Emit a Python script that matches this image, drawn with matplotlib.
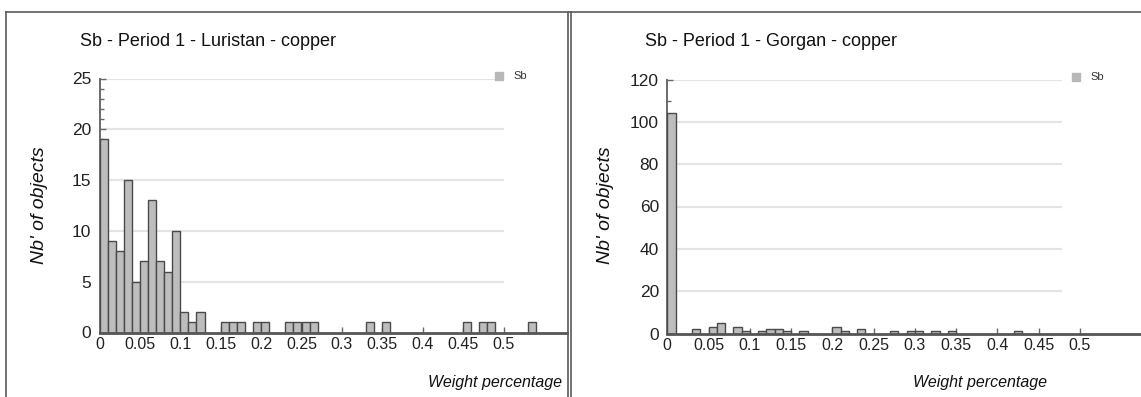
import matplotlib
matplotlib.use("Agg")
import matplotlib.pyplot as plt
from matplotlib.lines import Line2D
from matplotlib.ticker import MultipleLocator, FuncFormatter

plt.rcParams['font.family'] = ['Liberation Sans', 'DejaVu Sans']

# histogram bins (left edge, width 0.01) and counts
luristan_bins = [0.00, 0.01, 0.02, 0.03, 0.04, 0.05, 0.06, 0.07, 0.08, 0.09,
                 0.10, 0.11, 0.12, 0.15, 0.16, 0.17, 0.19, 0.20, 0.23, 0.24,
                 0.25, 0.26, 0.33, 0.35, 0.45, 0.47, 0.48, 0.53]
luristan_counts = [19, 9, 8, 15, 5, 7, 13, 7, 6, 10,
                   2, 1, 2, 1, 1, 1, 1, 1, 1, 1,
                   1, 1, 1, 1, 1, 1, 1, 1]

gorgan_bins = [0.00, 0.03, 0.05, 0.06, 0.08, 0.09, 0.11, 0.12, 0.13, 0.14,
               0.16, 0.20, 0.21, 0.23, 0.27, 0.29, 0.30, 0.32, 0.34, 0.42]
gorgan_counts = [104, 2, 3, 5, 3, 1, 1, 2, 2, 1,
                 1, 3, 1, 2, 1, 1, 1, 1, 1, 1]

x_ticks = [0, 0.05, 0.1, 0.15, 0.2, 0.25, 0.3, 0.35, 0.4, 0.45, 0.5]

W, H = 1141, 397
fig = plt.figure(figsize=(W / 100, H / 100), dpi=100)


def px(x, y):
    return x / W, 1 - y / H


def draw_panel(rect, bins, counts, xmax, ymax, major, minor, grid_end,
               title, title_xy, ylabel_xy, xlabel_xy, legend_xy):
    ax = fig.add_axes(rect)
    ax.bar(bins, counts, width=0.01, align='edge', color='#bdbdbd',
           edgecolor='#4a4a4a', linewidth=1.0, zorder=3)
    ax.set_xlim(0, xmax)
    ax.set_ylim(0, ymax)
    ax.hlines(range(major, ymax + 1, major), 0, grid_end, color='#e4e4e4',
              linewidth=1.6, zorder=1)
    for s in ('top', 'right'):
        ax.spines[s].set_visible(False)
    ax.spines['left'].set_color('#6a6a6a')
    ax.spines['left'].set_linewidth(1.4)
    ax.spines['bottom'].set_color('#555555')
    ax.spines['bottom'].set_linewidth(2.0)
    ax.spines['bottom'].set_zorder(4)

    ax.set_xticks(x_ticks)
    ax.xaxis.set_major_formatter(FuncFormatter(lambda v, p: '%g' % round(v, 2)))
    ax.yaxis.set_major_locator(MultipleLocator(major))
    ax.yaxis.set_minor_locator(MultipleLocator(minor))
    ax.tick_params(axis='both', which='major', direction='in', length=4,
                   width=1, color='#666666', labelcolor='#222222')
    ax.tick_params(axis='x', labelsize=11.5, pad=3)
    ax.tick_params(axis='y', labelsize=12.5, pad=6)
    ax.tick_params(axis='y', which='minor', direction='in', length=3,
                   width=1, color='#666666')

    fig.text(*px(*title_xy), title, fontsize=13, color='#111111',
             ha='left', va='center')
    fig.text(*px(*ylabel_xy), "Nb' of objects", fontsize=14, style='italic',
             rotation=90, ha='center', va='center', color='#111111')
    fig.text(*px(*xlabel_xy), 'Weight percentage', fontsize=11.5,
             style='italic', ha='center', va='center', color='#111111')
    lx, ly = px(*legend_xy)
    fig.add_artist(Line2D([lx], [ly], marker='s', markersize=6,
                          color='#b8b8b8', linestyle='none'))
    fig.text(lx + 14 / W, ly, 'Sb', fontsize=8, color='#333333',
             ha='left', va='center')
    return ax


# left panel: Luristan
draw_panel([99.5 / W, (H - 332.5) / H, (567 - 99.5) / W, 254 / H],
           luristan_bins, luristan_counts, (567 - 99.5) / 808, 25, 5, 1, 0.5,
           'Sb - Period 1 - Luristan - copper', (80, 42), (40, 205),
           (495, 382), (499, 76))

# right panel: Gorgan
draw_panel([667.3 / W, (H - 333.5) / H, (1141 - 667.3) / W, 254 / H],
           gorgan_bins, gorgan_counts, (1141 - 667.3) / 825, 120, 20, 10, 0.478,
           'Sb - Period 1 - Gorgan - copper', (645, 42), (605, 205),
           (980, 382), (1076, 77))

# outer frame and divider
frame = '#5a5a5a'
for (x0, y0, x1, y1) in [(5.5, 12, 5.5, 397), (5.5, 12, 1141, 12),
                         (568, 12, 568, 397), (571, 12, 571, 397)]:
    a, b = px(x0, y0)
    c, d = px(x1, y1)
    fig.add_artist(Line2D([a, c], [b, d], color=frame, linewidth=1.2))

fig.savefig('out.png', dpi=100)
